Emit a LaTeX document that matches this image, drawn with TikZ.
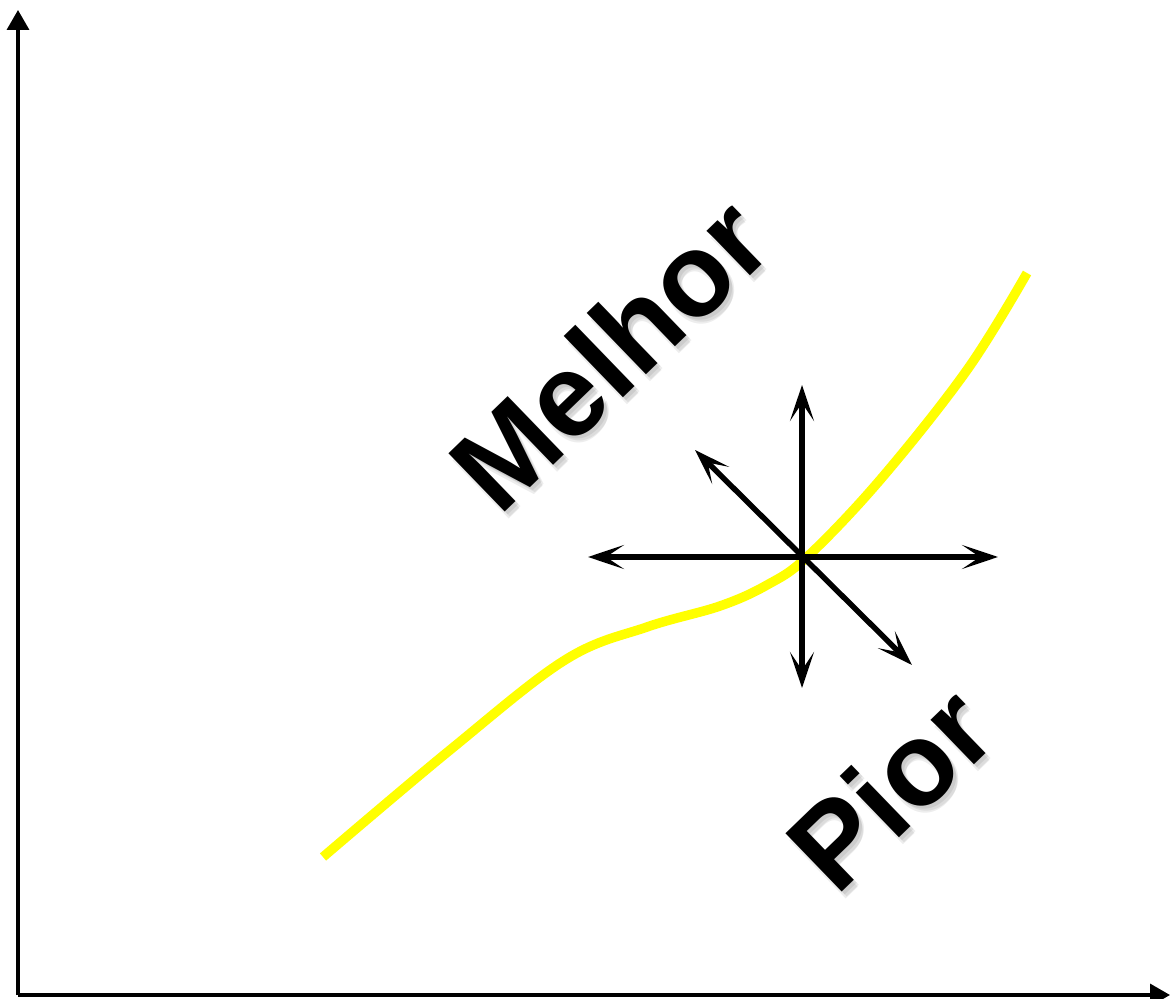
\documentclass[tikz,border=0pt]{standalone}
\usepackage{fontspec}
\setmainfont{Liberation Sans}
\usetikzlibrary{arrows.meta}
\definecolor{CurveYellow}{RGB}{255,255,0}
\tikzset{
  axis/.style={-{Triangle[length=0.4cm,width=0.44cm]},line width=0.07cm,black},
  move/.style={{Stealth[length=0.72cm,width=0.48cm,inset=0.36cm]}-{Stealth[length=0.72cm,width=0.48cm,inset=0.36cm]},
    line width=0.11cm,black},
  front/.style={line width=0.19cm,CurveYellow},
  bigtext/.style={font=\fontsize{67}{67}\selectfont\bfseries,inner sep=0pt},
  bigshadow/.style={bigtext,text=black,opacity=0.07}
}

\begin{document}
\begin{tikzpicture}[x=0.02cm,y=-0.02cm]
      \useasboundingbox (0,0) rectangle (1170,999);
      % axes
      \coordinate (origin) at (18,995);
      \coordinate (ytop) at (18,10);
      \coordinate (xend) at (1170,995);
      \draw[axis] (origin) -- (ytop);
      \draw[axis] (origin) -- (xend);
      % front curve
      \draw[front] plot[smooth,tension=0.6] coordinates {(323,857) (450,750) (565,660) (647,627)
        (720,606) (767,585) (807,557) (880,480) (967,370) (1027,273)};
      % directions
      \coordinate (c) at (802,557);
      \coordinate (west) at (588,557);
      \coordinate (east) at (998,557);
      \coordinate (north) at (802,385);
      \coordinate (south) at (802,688);
      \coordinate (nw) at (695,450);
      \coordinate (se) at (912,665);
      \draw[move] (west) -- (east);
      \draw[move] (north) -- (south);
      \draw[move] (nw) -- (se);
      % labels
      \foreach \dx/\dy in {3/3,5/5,4/7}{
        \node[bigshadow,rotate=44] at (609+\dx,353+\dy) {Melhor};
        \node[bigshadow,rotate=44] at (890+\dx,788+\dy) {Pior};
      }
      \node[bigtext,rotate=44] (better) at (609,353) {Melhor};
      \node[bigtext,rotate=44] (worse) at (890,788) {Pior};
    \end{tikzpicture}
\end{document}
